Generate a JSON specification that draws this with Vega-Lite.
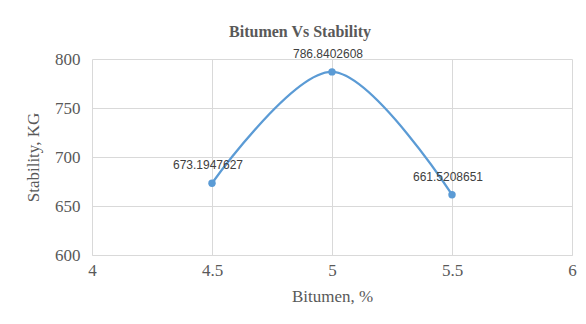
{
  "$schema": "https://vega.github.io/schema/vega-lite/v6.json",
  "width": 480,
  "height": 196,
  "autosize": {"type": "none"},
  "padding": {"left": 92, "top": 59, "right": 14, "bottom": 69},
  "background": "white",
  "title": {
    "text": "Bitumen Vs Stability",
    "font": "Liberation Serif",
    "fontSize": 16,
    "fontWeight": "bold",
    "color": "#595959",
    "anchor": "middle",
    "dx": -32,
    "offset": 8
  },
  "data": {
    "values": [
      {"bitumen": 4.5, "stability": 673.1947627},
      {"bitumen": 5.0, "stability": 786.8402608},
      {"bitumen": 5.5, "stability": 661.5208651}
    ]
  },
  "encoding": {
    "x": {
      "field": "bitumen",
      "type": "quantitative",
      "scale": {"domain": [4, 6], "nice": false, "zero": false},
      "axis": {
        "title": "Bitumen, %",
        "values": [4, 4.5, 5, 5.5, 6],
        "format": "~g",
        "labelFont": "Liberation Serif",
        "labelFontSize": 17,
        "labelColor": "#595959",
        "labelPadding": 7,
        "titleFont": "Liberation Serif",
        "titleFontSize": 17,
        "titleFontWeight": "normal",
        "titleColor": "#595959",
        "titlePadding": 10,
        "ticks": false,
        "domainColor": "#d9d9d9",
        "gridColor": "#d9d9d9",
        "labelFlush": false
      }
    },
    "y": {
      "field": "stability",
      "type": "quantitative",
      "scale": {"domain": [600, 800], "nice": false, "zero": false},
      "axis": {
        "title": "Stability, KG",
        "values": [600, 650, 700, 750, 800],
        "labelFont": "Liberation Serif",
        "labelFontSize": 17,
        "labelColor": "#595959",
        "labelPadding": 12,
        "titleFont": "Liberation Serif",
        "titleFontSize": 17,
        "titleFontWeight": "normal",
        "titleColor": "#595959",
        "titlePadding": 12,
        "ticks": false,
        "domain": false,
        "gridColor": "#d9d9d9"
      }
    }
  },
  "layer": [
    {
      "mark": {"type": "line", "interpolate": "catmull-rom", "color": "#5b9bd5", "strokeWidth": 2.25}
    },
    {
      "mark": {"type": "point", "filled": true, "color": "#5b9bd5", "size": 55, "opacity": 1}
    },
    {
      "mark": {"type": "text", "font": "Liberation Sans", "fontSize": 12, "color": "#404040", "dy": -18, "dx": -4},
      "encoding": {"text": {"field": "stability", "type": "nominal"}}
    }
  ],
  "config": {
    "view": {"stroke": null}
  }
}
